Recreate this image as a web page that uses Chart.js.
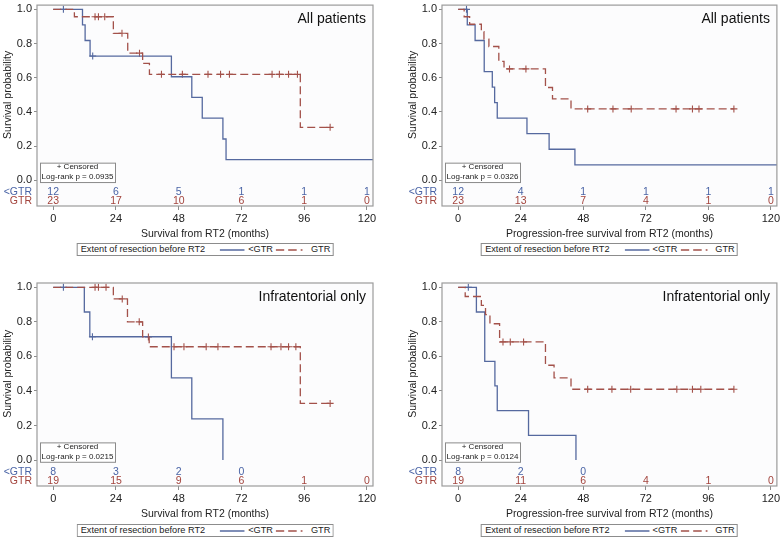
<!DOCTYPE html>
<html>
<head>
<meta charset="utf-8">
<title>Survival by extent of resection</title>
<script src="https://cdn.jsdelivr.net/npm/chart.js@4.4.0/dist/chart.umd.min.js"></script>
<style>
  body { margin: 0; background: #fff; width: 782px; height: 538px; position: relative; overflow: hidden;
         font-family: "Liberation Sans", Arial, Helvetica, sans-serif; }
  .panel { position: absolute; }
  .panel canvas { display: block; }
  .legend { position: absolute; transform: translateX(-50%); border: 1px solid #8c8c8c; background: #fff;
            height: 11px; line-height: 11px; font-size: 9.2px; color: #222; white-space: nowrap;
            padding: 0 2px 0 3px; display: flex; align-items: center; }
  .legend svg { display: block; }
</style>
</head>
<body>
<script>
// ---------------------------------------------
// KM curves – extent of resection before RT2
// ---------------------------------------------

const xTicks = [0, 24, 48, 72, 96, 120];
const yTicks = [0, 0.2, 0.4, 0.6, 0.8, 1.0];

// OS, all patients
const osAllLtT = [0, 11.2, 12.2, 14.1, 45.2, 53, 57, 64.9, 66.1];
const osAllLtS = [1, 0.909, 0.818, 0.727, 0.606, 0.485, 0.364, 0.242, 0.121];
const osAllLtEnd = 126;
const osAllLtCens = [3.9, 15.1];
const osAllGtrT = [0, 8.1, 23, 28.5, 34.2, 36.8, 94.5];
const osAllGtrS = [1, 0.957, 0.86, 0.744, 0.684, 0.62, 0.31];
const osAllGtrEnd = 105.9;
const osAllGtrCens = [16, 17.3, 19.7, 26.3, 33, 41.4, 49.4, 59.2, 64, 67.4, 83.7, 86.5, 90, 93.4, 105.9];
const osAllLtRisk = [12, 6, 5, 1, 1, 1];
const osAllGtrRisk = [23, 17, 10, 6, 1, 0];

// PFS, all patients
const pfsAllLtT = [0, 3.5, 6.5, 10, 13.1, 14, 15, 26.4, 34.9, 44.8];
const pfsAllLtS = [1, 0.909, 0.818, 0.636, 0.545, 0.455, 0.364, 0.273, 0.182, 0.091];
const pfsAllLtEnd = 126;
const pfsAllLtCens = [3.2];
const pfsAllGtrT = [0, 2.3, 4.4, 8.9, 9.9, 11.8, 15.6, 17.6, 33.5, 36.2, 43.3];
const pfsAllGtrS = [1, 0.957, 0.913, 0.87, 0.826, 0.783, 0.696, 0.652, 0.543, 0.476, 0.418];
const pfsAllGtrEnd = 105.8;
const pfsAllGtrCens = [19.7, 26, 49.7, 59.4, 66.4, 83.6, 89.9, 92.4, 105.8];
const pfsAllLtRisk = [12, 4, 1, 1, 1, 1];
const pfsAllGtrRisk = [23, 13, 7, 4, 1, 0];

// OS, infratentorial only
const osInfLtT = [0, 11.9, 14, 45.2, 53, 64.9];
const osInfLtS = [1, 0.857, 0.714, 0.476, 0.238, 0];
const osInfLtEnd = 64.9;
const osInfLtCens = [3.9, 15];
const osInfGtrT = [0, 23, 28.4, 34.2, 36.7, 94.5];
const osInfGtrS = [1, 0.933, 0.8, 0.713, 0.656, 0.328];
const osInfGtrEnd = 105.9;
const osInfGtrCens = [16, 17.3, 20.2, 26.4, 32.9, 36.4, 46.2, 50, 58.5, 63, 83.3, 87.1, 90, 92.8, 105.9];
const osInfLtRisk = [8, 3, 2, 0, null, null];
const osInfGtrRisk = [19, 15, 9, 6, 1, 0];

// PFS, infratentorial only
const pfsInfLtT = [0, 7, 10.2, 14.1, 15, 27, 45.2];
const pfsInfLtS = [1, 0.857, 0.571, 0.429, 0.286, 0.143, 0];
const pfsInfLtEnd = 45.2;
const pfsInfLtCens = [3.9];
const pfsInfGtrT = [0, 2.7, 8.9, 10.5, 12.2, 15.9, 33.5, 36.8, 43.3];
const pfsInfGtrS = [1, 0.947, 0.895, 0.842, 0.789, 0.684, 0.549, 0.476, 0.41];
const pfsInfGtrEnd = 105.8;
const pfsInfGtrCens = [17.2, 20, 25.1, 49.7, 59, 66.2, 83.9, 89.9, 93.1, 105.8];
const pfsInfLtRisk = [8, 2, 0, null, null, null];
const pfsInfGtrRisk = [19, 11, 6, 4, 1, 0];

const FONT = '"Liberation Sans", Arial, Helvetica, sans-serif';
const BLUE = '#55699f';
const RED = '#a3514a';
const BLUE_T = '#4a64a6';
const RED_T = '#a3443d';

Chart.defaults.font.family = FONT;
Chart.defaults.color = '#222';

function kmPoints(times, surv, end) {
  const pts = times.map((t, i) => ({ x: t, y: surv[i] }));
  pts.push({ x: end, y: surv[surv.length - 1] });
  return pts;
}

function survAt(times, surv, t) {
  let s = surv[0];
  times.forEach((tt, i) => { if (tt <= t) s = surv[i]; });
  return s;
}

const kmDecor = {
  id: 'kmDecor',
  beforeDraw(chart) {
    const { ctx, chartArea: a } = chart;
    ctx.save();
    ctx.fillStyle = '#fcfcfd';
    ctx.fillRect(a.left, a.top, a.right - a.left, a.bottom - a.top);
    ctx.restore();
  },
  afterDraw(chart, args, o) {
    const { ctx, chartArea: a, scales: { x, y } } = chart;
    const zero = y.getPixelForValue(0);

    ctx.save();
    ctx.strokeStyle = '#9b9b9b';
    ctx.lineWidth = 1.2;
    ctx.strokeRect(a.left, a.top, a.right - a.left, a.bottom - a.top);

    // y title, centred on 0..1
    ctx.save();
    ctx.fillStyle = '#222';
    ctx.font = '10.5px ' + FONT;
    ctx.textAlign = 'center';
    ctx.textBaseline = 'middle';
    ctx.translate(a.left - 29, y.getPixelForValue(0.5));
    ctx.rotate(-Math.PI / 2);
    ctx.fillText('Survival probability', 0, 0);
    ctx.restore();

    // panel label
    ctx.fillStyle = '#111';
    ctx.font = '14px ' + FONT;
    ctx.textAlign = 'right';
    ctx.textBaseline = 'alphabetic';
    ctx.fillText(o.title, a.right - 7, a.top + 17.7);

    // censored / log-rank box
    const bx = a.left + 3, by = zero - 17.7;
    ctx.fillStyle = '#fff';
    ctx.fillRect(bx, by, 75, 19.4);
    ctx.strokeStyle = '#8a8a8a';
    ctx.lineWidth = 1;
    ctx.strokeRect(bx + 0.5, by + 0.5, 75, 19.4);
    ctx.fillStyle = '#222';
    ctx.font = '8px ' + FONT;
    ctx.textAlign = 'center';
    ctx.textBaseline = 'middle';
    ctx.fillText('+ Censored', bx + 37.5, zero - 13.2);
    ctx.fillText('Log-rank p = ' + o.p, bx + 37.5, zero - 3.4);

    // numbers at risk
    const rows = [
      { label: '<GTR', vals: o.ltRisk, color: BLUE_T, v: -0.068 },
      { label: 'GTR', vals: o.gtrRisk, color: RED_T, v: -0.121 }
    ];
    ctx.font = '10.5px ' + FONT;
    rows.forEach(r => {
      const py = y.getPixelForValue(r.v);
      ctx.fillStyle = r.color;
      ctx.textAlign = 'right';
      ctx.fillText(r.label, a.left - 5, py);
      ctx.textAlign = 'center';
      r.vals.forEach((n, i) => {
        if (n === null) return;
        ctx.fillText(String(n), x.getPixelForValue(xTicks[i]), py);
      });
    });
    ctx.restore();
  }
};

const panels = [
  { left: 0, top: 0, w: 390, h: 262, padT: 3, padR: 17, padB: 22, yW: 37, legTop: 243,
    title: 'All patients', xTitle: 'Survival from RT2 (months)', p: '0.0935',
    ltT: osAllLtT, ltS: osAllLtS, ltEnd: osAllLtEnd, ltCens: osAllLtCens,
    gtrT: osAllGtrT, gtrS: osAllGtrS, gtrEnd: osAllGtrEnd, gtrCens: osAllGtrCens,
    ltRisk: osAllLtRisk, gtrRisk: osAllGtrRisk },
  { left: 390, top: 0, w: 392, h: 262, padT: 3, padR: 4, padB: 22, yW: 52, legTop: 243,
    title: 'All patients', xTitle: 'Progression-free survival from RT2 (months)', p: '0.0326',
    ltT: pfsAllLtT, ltS: pfsAllLtS, ltEnd: pfsAllLtEnd, ltCens: pfsAllLtCens,
    gtrT: pfsAllGtrT, gtrS: pfsAllGtrS, gtrEnd: pfsAllGtrEnd, gtrCens: pfsAllGtrCens,
    ltRisk: pfsAllLtRisk, gtrRisk: pfsAllGtrRisk },
  { left: 0, top: 270, w: 390, h: 268, padT: 13, padR: 17, padB: 18, yW: 37, legTop: 524,
    title: 'Infratentorial only', xTitle: 'Survival from RT2 (months)', p: '0.0215',
    ltT: osInfLtT, ltS: osInfLtS, ltEnd: osInfLtEnd, ltCens: osInfLtCens,
    gtrT: osInfGtrT, gtrS: osInfGtrS, gtrEnd: osInfGtrEnd, gtrCens: osInfGtrCens,
    ltRisk: osInfLtRisk, gtrRisk: osInfGtrRisk },
  { left: 390, top: 270, w: 392, h: 268, padT: 13, padR: 4, padB: 18, yW: 52, legTop: 524,
    title: 'Infratentorial only', xTitle: 'Progression-free survival from RT2 (months)', p: '0.0124',
    ltT: pfsInfLtT, ltS: pfsInfLtS, ltEnd: pfsInfLtEnd, ltCens: pfsInfLtCens,
    gtrT: pfsInfGtrT, gtrS: pfsInfGtrS, gtrEnd: pfsInfGtrEnd, gtrCens: pfsInfGtrCens,
    ltRisk: pfsInfLtRisk, gtrRisk: pfsInfGtrRisk }
];

function buildLegend(p, chart) {
  const a = chart.chartArea;
  const leg = document.createElement('div');
  leg.className = 'legend';
  leg.style.left = (p.left + (a.left + a.right) / 2) + 'px';
  leg.style.top = p.legTop + 'px';
  leg.innerHTML =
    '<span>Extent of resection before RT2</span>' +
    `<svg width="25" height="6" style="margin:0 3px 0 15px"><line x1="0" y1="3" x2="25" y2="3" stroke="${BLUE}" stroke-width="1.3"/></svg>` +
    '<span>&lt;GTR</span>' +
    `<svg width="27" height="6" style="margin:0 8px 0 3px"><line x1="0" y1="3" x2="27" y2="3" stroke="${RED}" stroke-width="1.3" stroke-dasharray="8.5 4"/></svg>` +
    '<span>GTR</span>';
  document.body.appendChild(leg);
}

function buildPanel(p) {
  const wrap = document.createElement('div');
  wrap.className = 'panel';
  wrap.style.left = p.left + 'px';
  wrap.style.top = p.top + 'px';
  const canvas = document.createElement('canvas');
  canvas.width = p.w;
  canvas.height = p.h;
  canvas.style.width = p.w + 'px';
  canvas.style.height = p.h + 'px';
  wrap.appendChild(canvas);
  document.body.appendChild(wrap);

  const chart = new Chart(canvas.getContext('2d'), {
    type: 'line',
    data: {
      datasets: [
        { label: 'GTR', data: kmPoints(p.gtrT, p.gtrS, p.gtrEnd), borderColor: RED, borderWidth: 1.3,
          borderDash: [8, 4], stepped: true, pointRadius: 0, fill: false },
        { label: '<GTR', data: kmPoints(p.ltT, p.ltS, p.ltEnd), borderColor: BLUE, borderWidth: 1.3,
          stepped: true, pointRadius: 0, fill: false },
        { label: 'GTR censored', data: p.gtrCens.map(t => ({ x: t, y: survAt(p.gtrT, p.gtrS, t) })),
          showLine: false, pointStyle: 'cross', pointRadius: 3.5, borderColor: RED, borderWidth: 1.1 },
        { label: '<GTR censored', data: p.ltCens.map(t => ({ x: t, y: survAt(p.ltT, p.ltS, t) })),
          showLine: false, pointStyle: 'cross', pointRadius: 3.5, borderColor: BLUE, borderWidth: 1.1 }
      ]
    },
    options: {
      animation: false,
      responsive: false,
      maintainAspectRatio: false,
      layout: { padding: { top: p.padT, right: p.padR, bottom: p.padB, left: 0 } },
      plugins: {
        legend: { display: false },
        tooltip: { enabled: false },
        kmDecor: { title: p.title, p: p.p, ltRisk: p.ltRisk, gtrRisk: p.gtrRisk }
      },
      scales: {
        x: {
          type: 'linear', min: -6.2, max: 122.3,
          afterBuildTicks: s => { s.ticks = xTicks.map(v => ({ value: v })); },
          afterFit: s => { s.height = 34; s.paddingLeft = 0; s.paddingRight = 0; },
          ticks: { font: { size: 11 }, color: '#222', padding: 2, maxRotation: 0, autoSkip: false },
          grid: { drawOnChartArea: false, drawTicks: true, tickLength: 4, color: '#8c8c8c' },
          border: { display: false },
          title: { display: true, text: p.xTitle, font: { size: 10.5 }, color: '#222', padding: { top: 0, bottom: 0 } }
        },
        y: {
          type: 'linear', min: -0.15, max: 1.025,
          afterBuildTicks: s => { s.ticks = yTicks.map(v => ({ value: v })); },
          afterFit: s => { s.width = p.yW; s.paddingTop = 0; s.paddingBottom = 0; },
          ticks: { font: { size: 11 }, color: '#222', padding: 2, callback: v => Number(v).toFixed(1) },
          grid: { drawOnChartArea: false, drawTicks: true, tickLength: 3, color: '#8c8c8c' },
          border: { display: false }
        }
      }
    },
    plugins: [kmDecor]
  });

  buildLegend(p, chart);
}

panels.forEach(buildPanel);
</script>
</body>
</html>
